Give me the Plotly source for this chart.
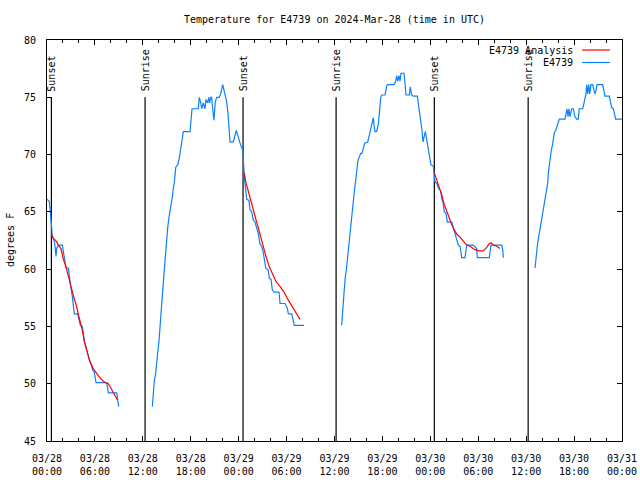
import pandas as pd
import plotly.graph_objects as go

# ---- data (hours after 2024-03-28 00:00 UTC) ----
obs_hours = [
    0.0, 0.29, 0.38, 0.5, 0.59, 0.66, 0.79, 0.96, 1.0, 1.13, 1.21, 1.41, 1.92, 2.04, 2.17, 2.38,
    2.67, 2.79, 2.97, 3.17, 3.29, 3.42, 3.84, 4.04, 4.17, 4.42, 4.55, 4.67, 4.88, 5.13, 5.30,
    5.51, 5.72, 5.92, 6.05, 6.14, 7.48, 7.68, 8.73, 8.85, 8.98,
    None,
    13.19, 13.31, 13.44, 13.61, 13.74, 13.86, 14.02, 14.15, 14.28, 14.40, 14.56, 14.69, 14.86,
    14.99, 15.11, 15.31, 15.53, 15.69, 15.82, 15.94, 16.12, 16.37, 16.57, 16.74, 16.94, 17.07,
    17.91, 18.03, 18.16, 18.95, 19.07, 19.25, 19.37, 19.57, 19.78, 19.91, 20.12, 20.25, 20.37,
    20.50, 20.62, 20.75, 20.91, 21.07, 21.25, 21.58, 21.75, 22.0, 22.16, 22.33, 22.50, 22.66,
    22.79, 22.92, 23.33, 23.54, 23.70, 23.88, 24.04, 24.26, 24.51, 24.58, 24.61, 24.71, 24.79,
    24.88, 25.01, 25.29, 25.42, 25.63, 25.83, 26.05, 26.26, 26.46, 26.67, 26.88, 27.09, 27.21,
    27.39, 27.71, 27.84, 28.05, 28.21, 28.46, 29.05, 29.18, 29.80, 30.09, 30.22, 30.64, 30.84,
    30.97, 32.18,
    None,
    36.90, 36.98, 37.03, 37.15, 37.23, 37.35, 37.48, 37.60, 37.73, 37.85, 38.03, 38.15, 38.28,
    38.40, 38.53, 38.66, 38.78, 38.94, 39.11, 39.28, 39.44, 39.61, 39.78, 40.16, 40.32, 40.53,
    40.73, 40.86, 40.95, 41.07, 41.28, 41.49, 41.61, 41.79, 41.91, 42.32, 42.54, 42.61, 43.45,
    43.66, 43.79, 43.91, 44.08, 44.20, 44.33, 44.70, 44.83, 44.95, 45.37, 45.49, 45.67, 45.87,
    46.37, 46.55, 46.71, 46.83, 46.96, 47.08, 47.25, 47.37, 47.55, 47.67, 47.83, 47.96, 48.08,
    48.37, 48.50, 48.59, 48.80, 49.00, 49.30, 49.42, 49.62, 49.75, 49.96, 50.13, 50.68, 50.88,
    51.09, 51.30, 51.50, 51.72, 51.93, 52.34, 52.55, 53.38, 53.80, 53.88, 55.38, 55.60, 56.94,
    57.06, 57.14,
    None,
    61.11, 61.23, 61.32, 61.44, 61.57, 61.69, 61.82, 61.94, 62.07, 62.20, 62.32, 62.45, 62.57,
    62.70, 62.78, 62.90, 63.03, 63.15, 63.28, 63.40, 63.53, 63.70, 63.83, 63.95, 64.15, 64.86,
    64.99, 65.11, 65.24, 65.36, 65.49, 65.70, 65.90, 66.11, 66.33, 66.53, 66.65, 67.08, 67.24,
    67.37, 67.49, 67.58, 67.70, 67.83, 67.96, 68.12, 68.33, 68.50, 68.62, 68.75, 68.87, 69.58,
    69.75, 69.87, 70.41, 70.59, 70.71, 70.91, 71.09, 71.21, 72.0,
]
obs_temp = [
    66.1, 65.9, 65.3, 64.6, 63.6, 62.8, 62.7, 62.3, 61.9, 61.1, 61.8, 62.1, 62.1, 61.5, 60.9, 60.1,
    60.1, 59.3, 58.5, 57.6, 56.6, 56.1, 56.1, 55.6, 55.1, 55.0, 54.3, 53.8, 53.2, 52.5, 52.1,
    51.8, 51.2, 51.0, 50.5, 50.1, 50.1, 49.2, 49.2, 48.6, 48.0,
    None,
    48.0, 49.5, 50.3, 50.9, 51.6, 52.7, 53.7, 54.7, 55.8, 57.3, 58.8, 59.9, 61.7,
    62.8, 63.6, 64.7, 65.5, 66.3, 67.1, 67.5, 68.9, 69.1, 69.7, 70.4, 71.1, 72.0,
    72.0, 72.9, 74.0, 74.0, 75.0, 74.5, 74.0, 74.5, 74.0, 74.8, 74.5, 75.0, 74.5,
    75.0, 75.0, 74.0, 73.0, 74.6, 75.0, 75.0, 75.3, 76.1, 75.6, 75.3, 74.6, 73.6,
    72.1, 71.1, 71.1, 71.6, 72.1, 71.7, 71.3, 70.8, 70.4, 69.5, 68.5, 68.1, 67.5,
    66.6, 66.1, 66.0, 65.2, 65.0, 64.3, 64.1, 63.6, 63.1, 62.2, 62.0, 61.4, 60.8,
    60.1, 59.9, 59.2, 59.1, 58.2, 58.0, 58.0, 57.0, 57.0, 56.6, 56.1, 56.1, 55.3,
    55.1, 55.1,
    None,
    55.1, 55.6, 56.4, 57.5, 58.5, 59.3, 59.9, 60.8, 61.7, 62.5, 63.6, 64.6, 65.5,
    66.3, 67.1, 67.8, 68.5, 69.5, 69.8, 70.1, 70.1, 70.5, 71.0, 71.1, 71.6, 72.1,
    72.7, 73.2, 72.6, 72.0, 72.0, 72.7, 73.6, 75.0, 75.2, 75.2, 76.0, 76.1, 76.1,
    76.4, 76.9, 76.4, 76.9, 76.4, 77.1, 77.1, 76.2, 75.2, 75.2, 75.9, 75.2, 75.1,
    75.1, 74.3, 73.6, 73.0, 72.1, 71.1, 71.7, 72.0, 71.3, 70.7, 70.0, 69.4, 69.1,
    69.0, 68.2, 67.6, 67.5, 67.1, 66.8, 66.2, 65.7, 65.0, 64.9, 64.1, 64.1, 63.6,
    63.0, 62.7, 62.1, 62.0, 61.0, 61.0, 62.1, 62.1, 61.8, 61.0, 61.0, 62.1, 62.1,
    61.7, 61.0,
    None,
    60.1, 60.7, 61.5, 62.3, 62.8, 63.3, 63.9, 64.3, 64.9, 65.4, 65.9, 66.5, 66.9,
    67.5, 68.4, 69.2, 69.8, 70.4, 70.8, 71.4, 71.9, 72.1, 72.4, 72.7, 73.1, 73.1,
    73.7, 74.0, 73.3, 74.0, 73.3, 74.0, 74.0, 73.3, 73.1, 73.1, 74.0, 74.0, 74.5,
    74.9, 75.3, 76.1, 75.3, 76.1, 75.3, 76.1, 76.1, 75.6, 75.3, 75.6, 76.1, 76.1,
    75.6, 75.1, 75.1, 74.6, 74.1, 74.0, 73.5, 73.1, 73.1,
]

ana_hours = [
    0.59, 0.79, 1.21, 1.41, 1.75, 2.04, 2.38, 2.67, 3.0, 3.29, 3.72, 4.01, 4.42, 4.67, 4.97,
    5.38, 5.80, 6.22, 6.76, 7.26, 7.68, 8.10, 8.51, 8.80,
    None,
    24.71, 24.92, 25.21, 25.51, 25.83, 26.17, 26.46, 26.76, 27.09, 27.42, 27.84, 28.26, 28.68,
    29.18, 29.68, 30.22, 30.77, 31.27, 31.68,
    None,
    48.50, 48.80, 49.09, 49.42, 49.71, 50.05, 50.38, 50.68, 51.00, 51.38, 51.72, 52.13, 52.55,
    52.97, 53.59, 54.13, 54.63, 55.06, 55.35, 55.60, 55.89, 56.31, 56.72,
]
ana_temp = [
    63.0, 62.7, 62.4, 62.1, 61.8, 60.9, 60.2, 59.3, 58.5, 57.7, 56.7, 55.8, 54.7, 53.7, 52.9,
    51.9, 51.3, 50.9, 50.4, 50.1, 50.0, 49.5, 48.9, 48.6,
    None,
    68.4, 67.5, 66.8, 66.0, 65.0, 64.3, 63.6, 62.8, 62.0, 61.1, 60.2, 59.5, 58.9,
    58.5, 58.0, 57.3, 56.7, 56.1, 55.6,
    None,
    68.4, 67.8, 67.2, 66.5, 65.7, 65.0, 64.4, 63.9, 63.4, 63.0, 62.8, 62.4, 62.1,
    62.0, 61.7, 61.6, 61.6, 61.9, 62.2, 62.3, 62.1, 62.0, 61.8,
]

sun_hours = [0.55, 12.28, 24.55, 36.2, 48.5, 60.25]
sun_labels = ["Sunset", "Sunrise", "Sunset", "Sunrise", "Sunset", "Sunrise"]
sun_line_bottom = 45
sun_line_top = 75

title_text = "Temperature for E4739 on 2024-Mar-28 (time in UTC)"
y_title = "degrees F"
legend_names = ["E4739 Analysis", "E4739"]

base = pd.Timestamp("2024-03-28 00:00")


def to_dt(hours):
    return [None if h is None else base + pd.Timedelta(hours=h) for h in hours]


FONT = "DejaVu Sans Mono"
RED = "#ff0000"
BLUE = "#0a80ff"

fig = go.Figure()

# sunrise / sunset markers
for h, lab in zip(sun_hours, sun_labels):
    t = base + pd.Timedelta(hours=h)
    fig.add_trace(go.Scatter(x=[t, t], y=[sun_line_bottom, sun_line_top], mode="lines",
                             line=dict(color="black", width=1.2), showlegend=False,
                             hoverinfo="skip"))
    fig.add_annotation(x=t, y=sun_line_top, xref="x", yref="y", text=lab, textangle=-90,
                       showarrow=False, xanchor="center", yanchor="bottom", yshift=4,
                       font=dict(family=FONT, size=10, color="black"))

fig.add_trace(go.Scatter(x=to_dt(obs_hours), y=obs_temp, mode="lines", name=legend_names[1],
                         line=dict(color=BLUE, width=1.2), connectgaps=False, showlegend=False))
fig.add_trace(go.Scatter(x=to_dt(ana_hours), y=ana_temp, mode="lines", name=legend_names[0],
                         line=dict(color=RED, width=1.2), connectgaps=False, showlegend=False))

# gnuplot-style key (text then sample line)
L, R, T, B = 47, 622, 40, 441
W, H = R - L, B - T


def px(xp):
    return (xp - L) / W


def py(yp):
    return 1 - (yp - T) / H


for i, (name, col) in enumerate(zip(legend_names, [RED, BLUE])):
    yy = py(50 + 12.5 * i)
    fig.add_annotation(x=px(575), y=yy, xref="paper", yref="paper", text=name,
                       showarrow=False, xanchor="right", yanchor="middle",
                       font=dict(family=FONT, size=10, color="black"))
    fig.add_shape(type="line", xref="paper", yref="paper", x0=px(582), x1=px(610),
                  y0=yy, y1=yy, line=dict(color=col, width=1.2))

fig.add_annotation(x=px(10), y=py(240), xref="paper", yref="paper", text=y_title,
                   textangle=-90, showarrow=False, xanchor="center", yanchor="middle",
                   font=dict(family=FONT, size=10, color="black"))

fig.update_layout(
    width=640, height=480,
    margin=dict(l=L, r=640 - R, t=T, b=480 - B, autoexpand=False),
    paper_bgcolor="white", plot_bgcolor="white",
    font=dict(family=FONT, size=10, color="black"),
    title=dict(text=title_text, x=0.5, xref="paper", y=1 - 19 / 480, yanchor="middle",
               font=dict(family=FONT, size=10, color="black")),
    showlegend=False,
)
fig.update_xaxes(
    type="date", range=[base, base + pd.Timedelta(hours=72)],
    tick0=base, dtick=6 * 3600 * 1000, tickformat="%m/%d<br>%H:%M",
    ticks="inside", ticklen=5, tickcolor="black", tickwidth=1,
    minor=dict(dtick=2 * 3600 * 1000, ticks="inside", ticklen=3, tickcolor="black"),
    showline=True, linecolor="black", linewidth=1, mirror="allticks",
    showgrid=False, zeroline=False, ticklabelstandoff=8, automargin=False,
    tickfont=dict(family=FONT, size=10, color="black"),
)
fig.update_yaxes(
    range=[45, 80], dtick=5, ticks="inside", ticklen=5, tickcolor="black", tickwidth=1,
    showline=True, linecolor="black", linewidth=1, mirror="allticks",
    showgrid=False, zeroline=False, ticklabelstandoff=8, automargin=False,
    tickfont=dict(family=FONT, size=10, color="black"),
)

fig.write_html("out.html")
